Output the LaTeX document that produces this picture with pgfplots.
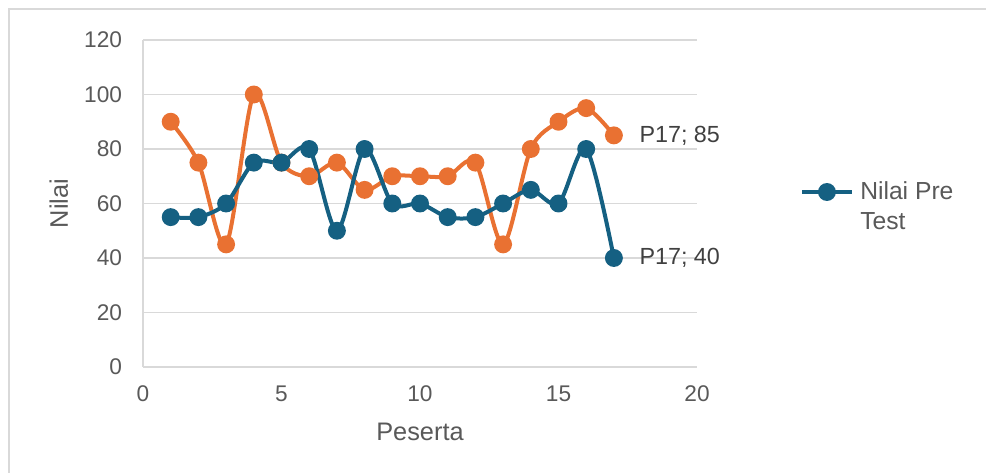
\documentclass[border=0pt]{standalone}
\usepackage{pgfplots}
\pgfplotsset{compat=1.18}
\usepackage{fontspec}
\setmainfont{Liberation Sans}
\definecolor{cblue}{HTML}{156082}
\definecolor{corange}{HTML}{E97132}
\definecolor{cgrid}{HTML}{D9D9D9}
\definecolor{ctext}{HTML}{595959}
\definecolor{clab}{HTML}{404040}

\pgfplotstableread{
x y
1 55
2 55
3 60
4 75
5 75
6 80
7 50
8 80
9 60
10 60
11 55
12 55
13 60
14 65
15 60
16 80
17 40
}\pre
\pgfplotstableread{
x y
1 90
2 75
3 45
4 100
5 75
6 70
7 75
8 65
9 70
10 70
11 70
12 75
13 45
14 80
15 90
16 95
17 85
}\post

\begin{document}
\begin{tikzpicture}
\path[use as bounding box] (0pt,0pt) rectangle (739.5pt,-354.75pt);
\draw[cgrid, line width=1.5pt] (7.1pt,-354.75pt) -- (7.1pt,-7.1pt) -- (739.5pt,-7.1pt);
\begin{axis}[
  at={(107.25pt,-275.25pt)}, anchor=south west,
  scale only axis, width=415.5pt, height=245.25pt,
  xmin=0, xmax=20, ymin=0, ymax=120,
  xtick={0,5,...,20}, ytick={0,20,...,120},
  axis x line*=bottom, axis y line*=left,
  axis line style={cgrid, line width=1.1pt},
  major tick length=0pt,
  ymajorgrids, grid style={cgrid, line width=1.1pt},
  /pgf/number format/assume math mode=true,
  tick label style={font=\fontsize{17}{20}\selectfont, text=ctext},
  yticklabel style={anchor=east, inner sep=0pt, xshift=-15.5pt},
  xticklabel style={anchor=north, inner sep=0pt, yshift=-14pt},
  xlabel={Peserta}, ylabel={Nilai},
  label style={font=\fontsize{19}{22}\selectfont, text=ctext, inner sep=0pt},
  xlabel style={at={(axis description cs:0.5,0)}, anchor=north, yshift=-42pt},
  ylabel style={at={(axis description cs:0,0.5)}, anchor=south, rotate=0, yshift=56pt},
  clip=false,
  legend style={at={({(800-143)/554},{(367-207)/327})}, anchor=west, draw=none, fill=none,
    font=\fontsize{18.5}{22.5}\selectfont, text=ctext, inner sep=0pt, column sep=3pt,
    cells={anchor=west, align=left}},
  legend image code/.code={
    \draw[#1, mark=none] (0pt,11.25pt) -- (37pt,11.25pt);
    \draw[#1, only marks] plot coordinates {(18.5pt,11.25pt)};
    \path (0pt,-16.5pt);
  },
]
\addplot[corange, line width=3pt, smooth, tension=0.5, mark=*, mark size=5.2pt,
  mark options={draw=none, fill=corange}, forget plot] table[x=x,y=y] {\post};
\addplot[cblue, line width=3pt, smooth, tension=0.5, mark=*, mark size=5.2pt,
  mark options={draw=none, fill=cblue}] table[x=x,y=y] {\pre};
\addlegendentry{Nilai Pre\\Test}
\node[anchor=west, inner sep=0pt, font=\fontsize{17.5}{20}\selectfont, text=clab] at (axis cs:17,85) [xshift=19pt] {P17; 85};
\node[anchor=west, inner sep=0pt, font=\fontsize{17.5}{20}\selectfont, text=clab] at (axis cs:17,40) [xshift=19pt] {P17; 40};
\end{axis}
\end{tikzpicture}
\end{document}
